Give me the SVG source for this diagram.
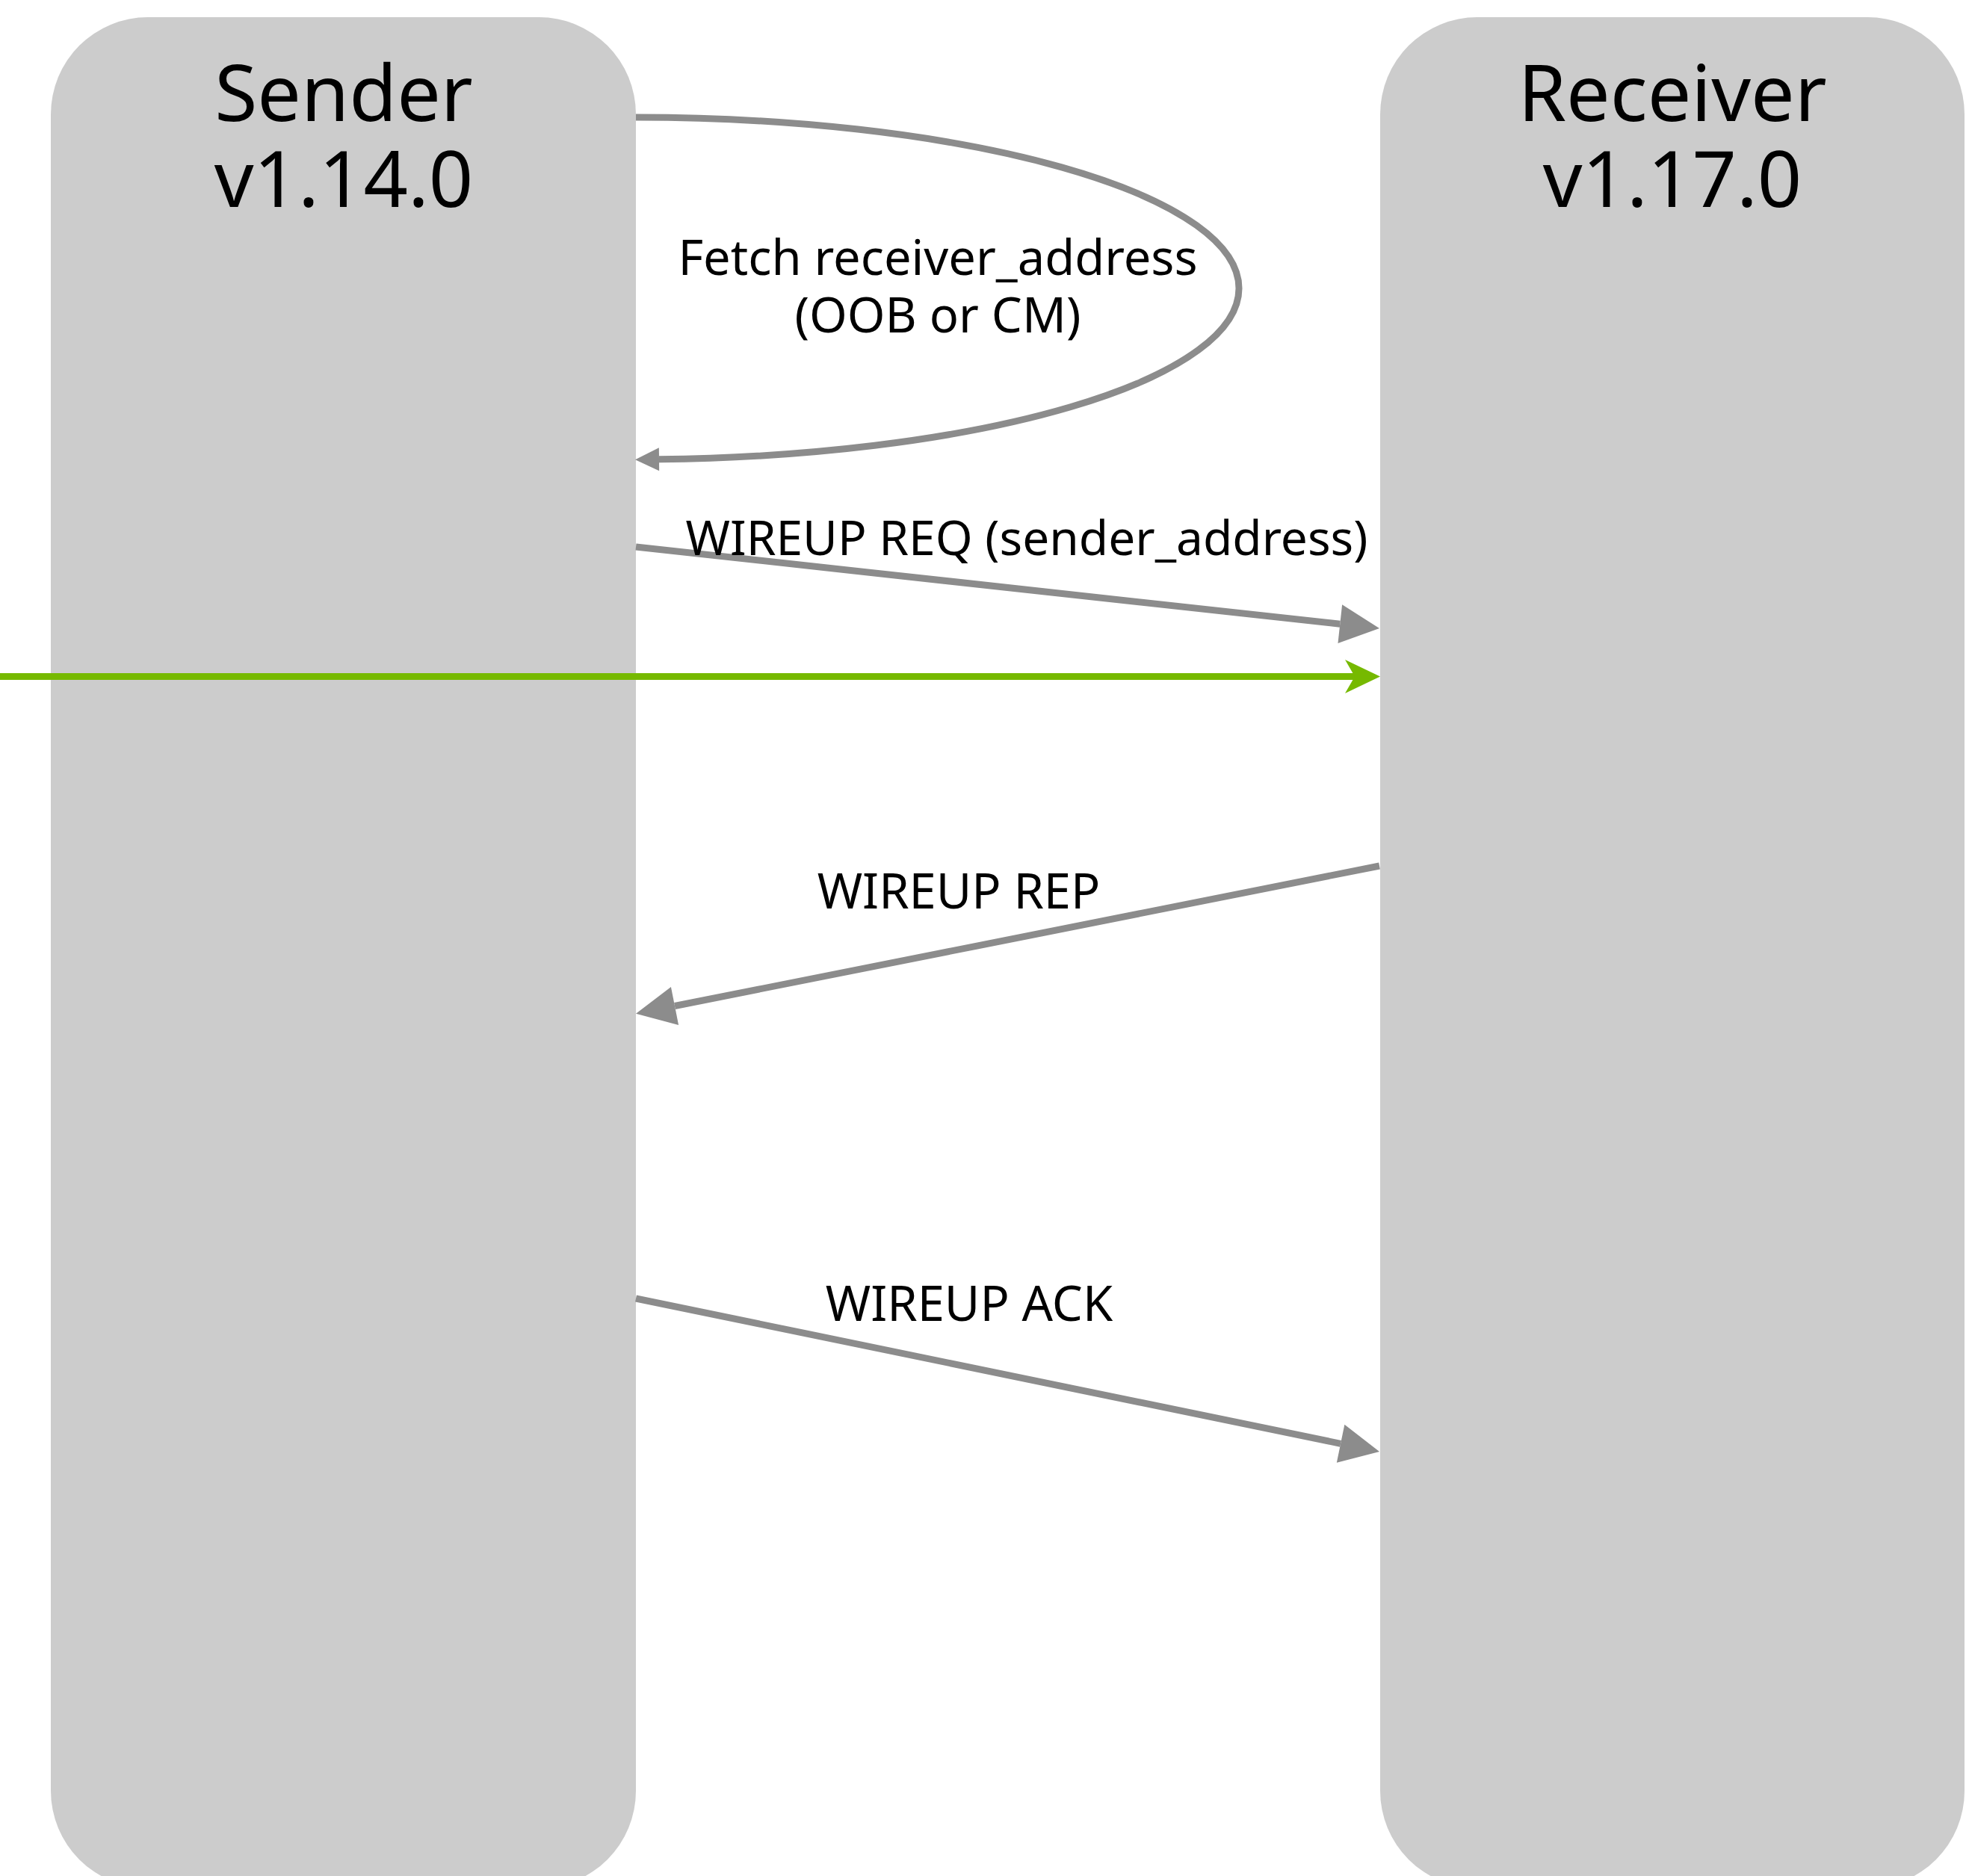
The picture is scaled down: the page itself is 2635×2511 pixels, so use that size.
<svg xmlns="http://www.w3.org/2000/svg" width="2635" height="2511" viewBox="0 0 2635 2511">
  <style>
    .box { fill: #cccccc; }
    .title { font-family: "Noto Sans", "Liberation Sans", sans-serif; font-size: 104px; fill: #000000; text-anchor: middle; }
    .label { font-family: "Noto Sans", "Liberation Sans", sans-serif; font-size: 65px; fill: #000000; text-anchor: middle; }
    .msg { fill: none; stroke: #8c8c8c; stroke-width: 9; }
    .green { fill: none; stroke: #76b900; stroke-width: 9; }
  </style>
  <defs>
    <marker id="tri" markerUnits="userSpaceOnUse" viewBox="0 -27 54 54" markerWidth="54" markerHeight="54" refX="0" refY="0" orient="auto" overflow="visible">
      <path d="M0,-26 L53,0 L0,26 Z" fill="#8c8c8c"/>
    </marker>
    <marker id="triSmall" markerUnits="userSpaceOnUse" viewBox="0 -16 33 32" markerWidth="33" markerHeight="32" refX="0" refY="0" orient="auto" overflow="visible">
      <path d="M0,-15.5 L32,0 L0,15.5 Z" fill="#8c8c8c"/>
    </marker>
    <marker id="vee" markerUnits="userSpaceOnUse" viewBox="-16 -23 49 46" markerWidth="49" markerHeight="46" refX="0" refY="0" orient="auto" overflow="visible">
      <path d="M-2,0 L-15,-22.5 L32,0 L-15,22.5 Z" fill="#76b900"/>
    </marker>
  </defs>

  <g id="sender">
    <rect class="box" x="68" y="23" width="783" height="2504" rx="130" ry="130"/>
    <text class="title" x="460" y="162">Sender<tspan x="460" y="277">v1.14.0</tspan></text>
  </g>

  <g id="receiver">
    <rect class="box" x="1847" y="23" width="782" height="2504" rx="130" ry="130"/>
    <text class="title" x="2238" y="162">Receiver<tspan x="2238" y="277">v1.17.0</tspan></text>
  </g>

  <g id="connectors">
    <path class="msg" d="M851,157 A807,229 0 0 1 1658,386 A807,229 0 0 1 882,614.8" marker-end="url(#triSmall)"/>
    <path class="msg" d="M851,732 L1793.3,835.2" marker-end="url(#tri)"/>
    <path class="green" d="M0,905.5 L1815,905.5" marker-end="url(#vee)"/>
    <path class="msg" d="M1846,1159 L903,1346.5" marker-end="url(#tri)"/>
    <path class="msg" d="M851,1738 L1794.1,1932.3" marker-end="url(#tri)"/>
  </g>

  <g id="labels">
    <text class="label" x="1255" y="368">Fetch receiver_address<tspan x="1255" y="445">(OOB or CM)</tspan></text>
    <text class="label" x="1374" y="743" style="font-size:64px">WIREUP REQ (sender_address)</text>
    <text class="label" x="1283" y="1216">WIREUP REP</text>
    <text class="label" x="1297" y="1768">WIREUP ACK</text>
  </g>
</svg>
